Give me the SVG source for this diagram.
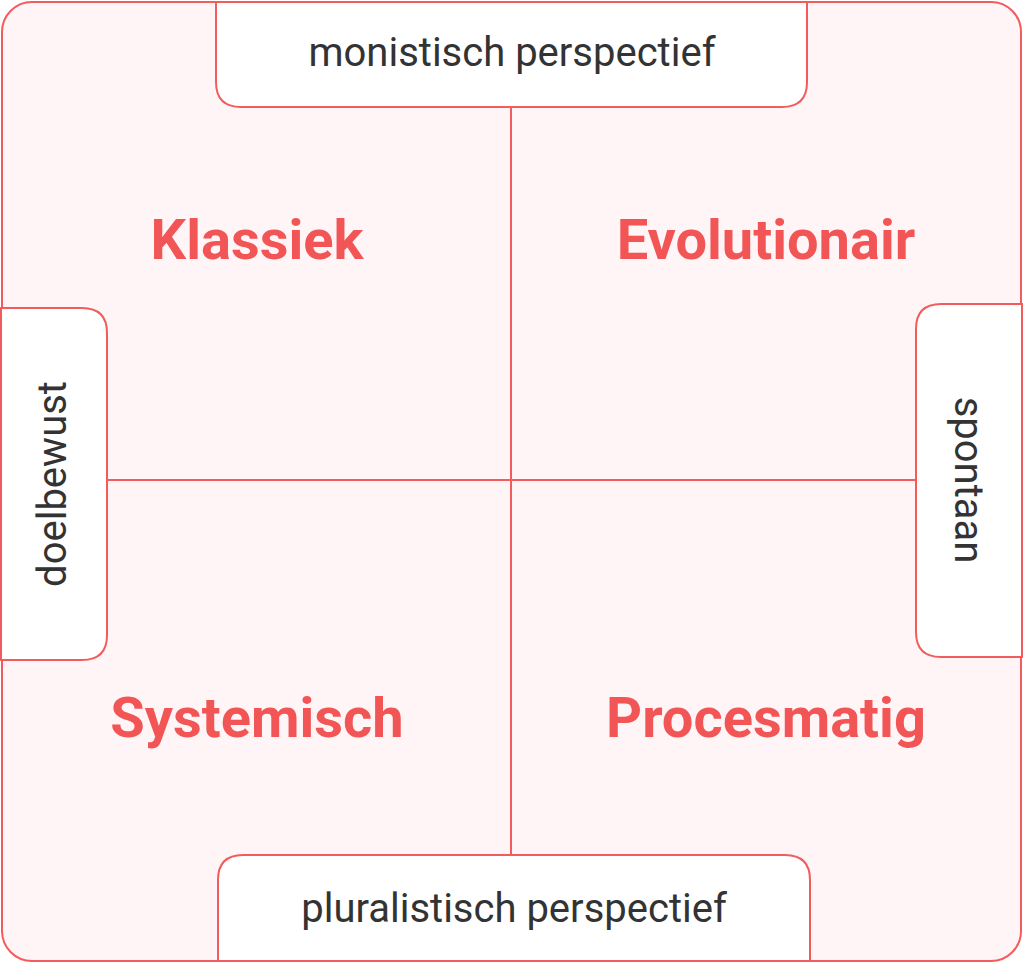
<svg xmlns="http://www.w3.org/2000/svg" width="1024" height="963" viewBox="0 0 1024 963">
<style>
.box{fill:#fff;stroke:#f25c5c;stroke-width:2}
.lbl{font-family:Roboto,"Liberation Sans",sans-serif;font-size:40px;fill:#333;text-anchor:middle;dominant-baseline:central}
.q{font-family:Roboto,"Liberation Sans",sans-serif;font-size:56px;font-weight:bold;fill:#f25555;text-anchor:middle;dominant-baseline:central}
</style>
<rect x="2" y="2" width="1019" height="959" rx="30" fill="#fff5f6" stroke="#f25c5c" stroke-width="2"/>
<g id="connectors" stroke="#f25c5c" stroke-width="2">
<line x1="511" y1="107" x2="511" y2="855"/>
<line x1="107" y1="480" x2="916" y2="480"/>
</g>
<g id="top"><path class="box" d="M216 2 H807 V82 Q807 107 782 107 H241 Q216 107 216 82 Z"/><text class="lbl" x="512" y="52">monistisch perspectief</text></g>
<g id="bottom"><path class="box" d="M218 961 V880 Q218 855 243 855 H785 Q810 855 810 880 V961 Z"/><text class="lbl" x="514" y="908">pluralistisch perspectief</text></g>
<g id="left"><path class="box" d="M1 308 H82 Q107 308 107 333 V635 Q107 660 82 660 H1 Z"/><text class="lbl" transform="translate(52 484) rotate(-90)">doelbewust</text></g>
<g id="right"><path class="box" d="M1022 304 H941 Q916 304 916 329 V632 Q916 657 941 657 H1022 Z"/><text class="lbl" transform="translate(968 480) rotate(90)">spontaan</text></g>
<g id="klassiek"><text class="q" x="257" y="240">Klassiek</text></g>
<g id="evolutionair"><text class="q" x="766" y="240">Evolutionair</text></g>
<g id="systemisch"><text class="q" x="257" y="718">Systemisch</text></g>
<g id="procesmatig"><text class="q" x="766" y="718">Procesmatig</text></g>
</svg>
